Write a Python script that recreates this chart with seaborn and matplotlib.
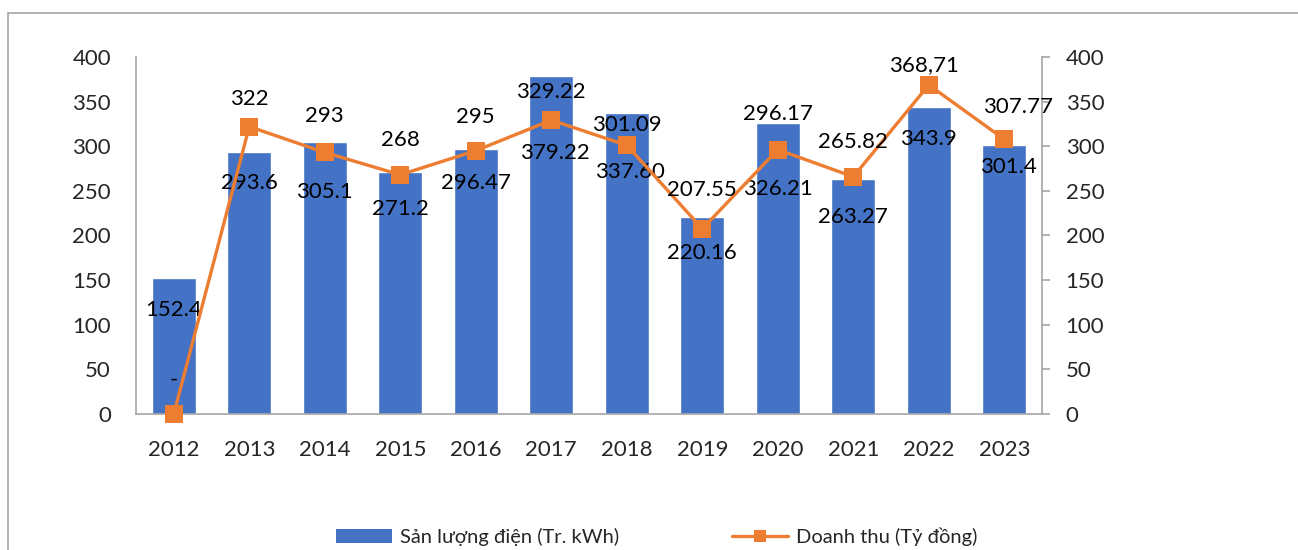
import numpy as np
import matplotlib
matplotlib.use("Agg")
import matplotlib.pyplot as plt
import seaborn as sns
from matplotlib.patches import Patch, Rectangle
from matplotlib.lines import Line2D

years = ["2012", "2013", "2014", "2015", "2016", "2017",
         "2018", "2019", "2020", "2021", "2022", "2023"]
output = [152.4, 293.6, 305.1, 271.2, 296.47, 379.22,
          337.60, 220.16, 326.21, 263.27, 343.9, 301.4]
output_labels = ["152.4", "293.6", "305.1", "271.2", "296.47", "379.22",
                 "337.60", "220.16", "326.21", "263.27", "343.9", "301.4"]
revenue = [0, 322, 293, 268, 295, 329.22,
           301.09, 207.55, 296.17, 265.82, 368.71, 307.77]
revenue_labels = ["-", "322", "293", "268", "295", "329.22",
                  "301.09", "207.55", "296.17", "265.82", "368,71", "307.77"]
legend_labels = ["Sản lượng điện (Tr. kWh)", "Doanh thu (Tỷ đồng)"]

BLUE = "#4472C4"
ORANGE = "#ED7D31"
GREY = "#A6A6A6"

sns.set_style("white")
plt.rcParams["font.family"] = ["Lato", "DejaVu Sans"]

fig = plt.figure(figsize=(12.98, 5.5), dpi=100)
ax = fig.add_axes([0.1048, 0.2473, 0.698, 0.6491])

x = np.arange(len(years))
sns.barplot(x=x, y=output, color=BLUE, width=0.58, saturation=1, ax=ax)
ax.set_ylim(0, 400)
ax.set_xlim(-0.5, len(years) - 0.5)
ax.set_yticks(range(0, 401, 50))
ax.set_xticks(x)
ax.set_xticklabels(years)

ax2 = ax.twinx()
sns.lineplot(x=x, y=revenue, color=ORANGE, linewidth=2.4, marker="s",
             markersize=13, markeredgewidth=0, ax=ax2, clip_on=False, zorder=5)
ax2.set_ylim(0, 400)
ax2.set_yticks(range(0, 401, 50))
ax2.set_xlim(-0.5, len(years) - 0.5)

for a in (ax, ax2):
    for s in a.spines.values():
        s.set_visible(False)
    a.set_xlabel("")
    a.set_ylabel("")
ax.spines["left"].set_visible(True)
ax.spines["bottom"].set_visible(True)
ax.spines["left"].set_color(GREY)
ax.spines["bottom"].set_color(GREY)
ax2.spines["right"].set_visible(True)
ax2.spines["right"].set_color(GREY)
for s in ("left", "bottom"):
    ax.spines[s].set_linewidth(1.2)
ax2.spines["right"].set_linewidth(1.2)

ax.tick_params(axis="y", length=0, pad=18, labelsize=16)
ax.tick_params(axis="x", length=0, pad=19, labelsize=16)
ax2.tick_params(axis="y", length=6, width=1.2, color=GREY, pad=11, labelsize=16,
                direction="out")

# label offsets in pixels (dx, dy) relative to the mark
bar_off = [(0, -32), (0, -31), (0, -50), (0, -37), (0, -34), (4, -77),
           (3, -59), (0, -36), (0, -66), (0, -38), (0, -32), (4, -22)]
line_off = [(0, 34), (0, 28), (0, 36), (0, 35), (0, 34), (0, 28),
            (0, 20), (0, 39), (0, 36), (0, 35), (-5, 20), (14, 32)]
px = 0.72
for i in range(len(years)):
    ax.annotate(output_labels[i], (x[i], output[i]),
                xytext=(bar_off[i][0] * px, bar_off[i][1] * px),
                textcoords="offset points", ha="center", va="center",
                fontsize=16, color="black", zorder=6)
    ax2.annotate(revenue_labels[i], (x[i], revenue[i]),
                 xytext=(line_off[i][0] * px, line_off[i][1] * px),
                 textcoords="offset points", ha="center", va="center",
                 fontsize=16, color="black", zorder=6)

handles = [Patch(facecolor=BLUE, edgecolor="none"),
           Line2D([0], [0], color=ORANGE, linewidth=2.4, marker="s",
                  markersize=9, markeredgewidth=0)]
fig.legend(handles, legend_labels, loc="lower center", ncol=2,
           bbox_to_anchor=(0.506, -0.026), frameon=False, fontsize=14.5,
           handlelength=2.8, handleheight=0.7, handletextpad=0.4,
           columnspacing=5.6)

fig.patches.append(Rectangle((8 / 1298, -0.05), 1.05, 0.05 + 1 - 13 / 550,
                             transform=fig.transFigure, fill=False,
                             edgecolor=GREY, linewidth=1.2))

fig.savefig("out.png", dpi=100)
